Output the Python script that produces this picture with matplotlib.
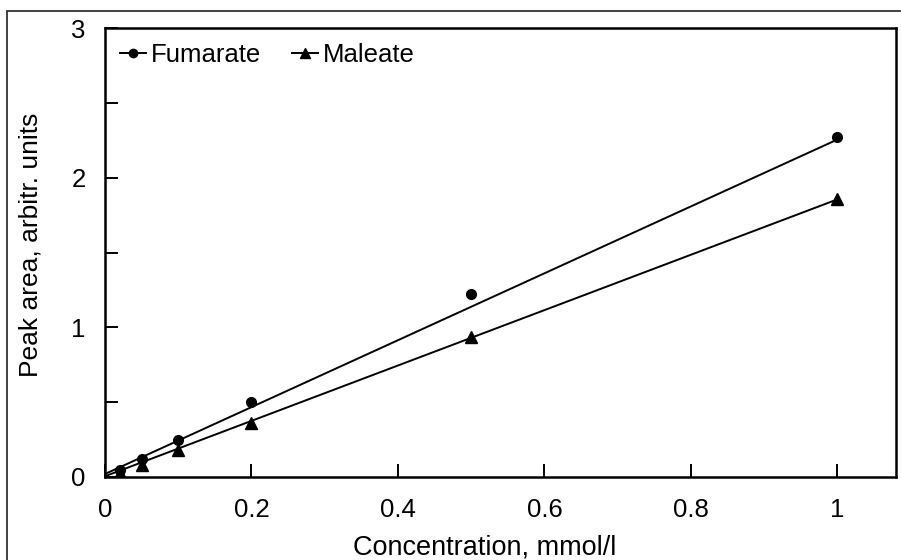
import numpy as np
import matplotlib
matplotlib.use('Agg')
import matplotlib.pyplot as plt
from matplotlib.lines import Line2D
from matplotlib.patches import Rectangle

plt.rcParams['font.family'] = ['Liberation Sans', 'DejaVu Sans']

# data
conc = [0.02, 0.05, 0.1, 0.2, 0.5, 1.0]                  # mmol/l
fumarate = [0.05, 0.12, 0.247, 0.503, 1.22, 2.27]
maleate = [0.025, 0.08, 0.18, 0.363, 0.935, 1.857]

# calibration lines (ends)
fit_x = [0.0, 1.0]
fumarate_fit = [0.02, 2.255]
maleate_fit = [0.005, 1.855]

xticks = [0, 0.2, 0.4, 0.6, 0.8, 1]
xticklabels = ['0', '0.2', '0.4', '0.6', '0.8', '1']
yticks = [0, 1, 2, 3]

fs = 18.5

fig = plt.figure(figsize=(9.01, 5.60), dpi=100)
ax = fig.add_axes([105/901, 1-477/560, 791/901, 449/560])

# frame round the whole picture
fig.patches.append(Rectangle((7/901, -0.05), 1.1, 1-11/560+0.05, transform=fig.transFigure,
                             fill=False, lw=1.3, ec='#333333'))

for y, yfit, mk, ms in [(fumarate, fumarate_fit, 'o', 7), (maleate, maleate_fit, '^', 8.5)]:
    ax.plot(fit_x, yfit, color='black', lw=1.4)
    ax.plot(conc, y, ls='none', marker=mk, ms=ms, color='black')

ax.set_xlim(0, 1.08)
ax.set_ylim(0, 3)
ax.set_xticks(xticks)
ax.set_xticklabels(xticklabels)
ax.set_yticks(yticks)
ax.set_yticks([0.5, 1.5, 2.5], minor=True)
ax.tick_params(which='both', direction='in', length=9.5, width=1.4, labelsize=fs, top=False, right=False)
ax.tick_params(axis='y', pad=14)
ax.tick_params(axis='x', pad=15)
for s in ax.spines.values():
    s.set_linewidth(1.8)

ax.set_xlabel('Concentration, mmol/l', fontsize=19.5, va='baseline')
ax.set_ylabel('Peak area, arbitr. units', fontsize=19, va='center')
ax.xaxis.set_label_coords(0.48, (477-555)/449)
ax.yaxis.set_label_coords((31-105)/791, 0.517)

handles = [Line2D([], [], color='black', lw=1.4, marker='o', ms=6),
           Line2D([], [], color='black', lw=1.4, marker='^', ms=7.5)]
ax.legend(handles, ['Fumarate', 'Maleate'], loc='upper left', ncol=2, frameon=False,
          fontsize=fs, handlelength=1.0, handletextpad=0.2, columnspacing=1.2,
          borderaxespad=0.2, bbox_to_anchor=(0.0, 1.0))

fig.savefig('out.png', dpi=100)
